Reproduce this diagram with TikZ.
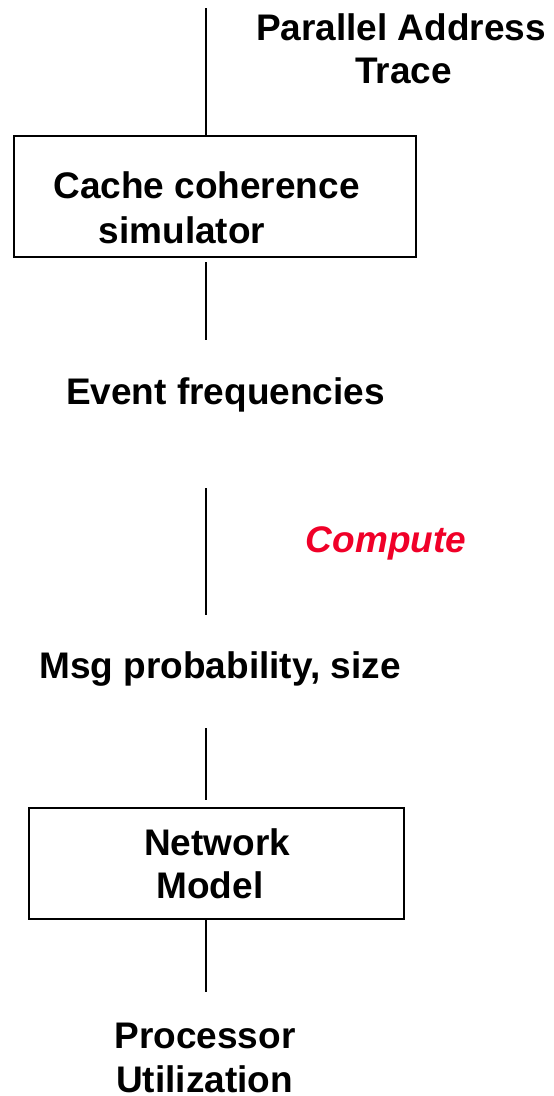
\documentclass[tikz,border=0pt]{standalone}
\usepackage{fontspec}
\setmainfont{Liberation Sans}
\definecolor{computered}{RGB}{240,0,40}
\begin{document}
\begin{tikzpicture}[x=1pt,y=-1pt,
  lbl/.style={inner sep=0pt,anchor=base,font=\fontsize{37}{42}\selectfont\bfseries},
  conn/.style={line width=1.6pt},
  boxst/.style={draw,line width=1.6pt,inner sep=0pt}]
\useasboundingbox (0,0) rectangle (554,1096);
% boxes
\node[boxst,minimum width=402pt,minimum height=121pt] (sim) at (215,196.5) {};
\node[boxst,minimum width=375pt,minimum height=111pt] (net) at (216.5,863.5) {};
% texts
\node[lbl] (pa1) at (401,40) {Parallel Address};
\node[lbl] (pa2) at (403.5,83) {Trace};
\node[lbl] (s1) at (206.5,198) {Cache coherence};
\node[lbl] (s2) at (182,243) {simulator};
\node[lbl] (ev) at (225.5,404) {Event frequencies};
\node[lbl,text=computered,font=\fontsize{37}{42}\selectfont\bfseries\itshape] (cp) at (386,552) {Compute};
\node[lbl] (msg) at (220,678) {Msg probability, size};
\node[lbl] (n1) at (217,855) {Network};
\node[lbl] (n2) at (210,898) {Model};
\node[lbl] (p1) at (205,1048) {Processor};
\node[lbl] (p2) at (204.5,1092) {Utilization};
% connectors
\coordinate (t0) at (206,8);
\coordinate (a0) at (206,262);
\coordinate (a1) at (206,340);
\coordinate (b0) at (206,488);
\coordinate (b1) at (206,615);
\coordinate (c0) at (206,728);
\coordinate (c1) at (206,800);
\coordinate (d1) at (206,992);
\draw[conn] (t0) -- (t0 |- sim.north);
\draw[conn] (a0) -- (a1);
\draw[conn] (b0) -- (b1);
\draw[conn] (c0) -- (c1);
\draw[conn] (d1 |- net.south) -- (d1);
\end{tikzpicture}
\end{document}
